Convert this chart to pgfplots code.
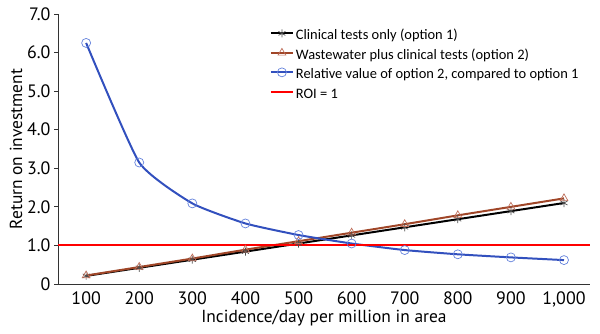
\documentclass[border=0pt]{standalone}
\usepackage{fontspec}
\setmainfont{PT Sans}
\newfontfamily\legfont{Carlito}
\usepackage{pgfplots}
\pgfplotsset{compat=1.18}
\definecolor{cblue}{RGB}{50,80,190}
\definecolor{cbluem}{RGB}{100,130,220}
\definecolor{cbrown}{RGB}{160,70,40}
\definecolor{cbrownm}{RGB}{190,110,90}
\definecolor{roired}{RGB}{255,0,0}
\newcommand\ls{\rule[-5bp]{0pt}{19bp}}
\begin{document}
\begin{tikzpicture}[x=1bp,y=1bp]
\useasboundingbox (-58,-49) rectangle (542,284);
\begin{axis}[
  scale only axis,
  width=532bp, height=270bp,
  at={(0,0)}, anchor=origin,
  xmin=47, xmax=1049, ymin=0, ymax=7,
  axis lines*=left,
  axis line style={line width=0.9pt, color=black!80},
  xtick={100,200,...,1000},
  xticklabels={100,200,300,400,500,600,700,800,900,{1,000}},
  ytick={0,1,...,7},
  yticklabels={0,1.0,2.0,3.0,4.0,5.0,6.0,7.0},
  x tick style={draw=none},
  y tick style={black!80, line width=0.9pt},
  ytick pos=left,
  tick align=outside,
  major tick length=4bp,
  tick label style={font=\fontsize{18}{18}\selectfont},
  /pgf/number format/assume math mode=true,
  xlabel={Incidence/day per million in area},
  ylabel={Return on investment},
  label style={font=\fontsize{17.5}{17.5}\selectfont},
  xlabel style={yshift=4bp},
  ylabel style={yshift=-2bp},
  legend cell align=left,
  legend style={at={(0.398,0.965)}, anchor=north west, draw=none, fill=none,
    font=\legfont\fontsize{14.5}{17}\selectfont, inner sep=0pt},
  legend image code/.code={
    \draw[mark repeat=2,mark phase=2,#1] plot coordinates {(0bp,0bp) (11bp,0bp) (22bp,0bp)};
  },
]
\addplot[black, line width=2pt, mark=asterisk, mark size=4bp, mark options={line width=0.7pt, draw=black!70}]
  coordinates {(100,0.21)(200,0.42)(300,0.63)(400,0.84)(500,1.05)(600,1.26)(700,1.47)(800,1.68)(900,1.89)(1000,2.10)};
\addlegendentry{\ls Clinical tests only (option 1)}
\addplot[cbrown, line width=2pt, mark=triangle, mark size=4.5bp, mark options={line width=0.7pt, draw=cbrownm}]
  coordinates {(100,0.22)(200,0.44)(300,0.66)(400,0.89)(500,1.11)(600,1.33)(700,1.55)(800,1.78)(900,2.00)(1000,2.22)};
\addlegendentry{\ls Wastewater plus clinical tests (option 2)}
\addplot[cblue, line width=2pt, smooth, tension=0.3, mark=o, mark size=4.5bp, mark options={line width=0.7pt, draw=cbluem, solid}]
  coordinates {(100,6.25)(200,3.15)(300,2.09)(400,1.57)(500,1.27)(600,1.05)(700,0.88)(800,0.77)(900,0.69)(1000,0.62)};
\addlegendentry{\ls Relative value of option 2, compared to option 1}
\addplot[color=roired, line width=1.9pt, mark=none] coordinates {(47,1)(1049,1)};
\addlegendentry{\ls ROI = 1}
\end{axis}
\end{tikzpicture}
\end{document}
